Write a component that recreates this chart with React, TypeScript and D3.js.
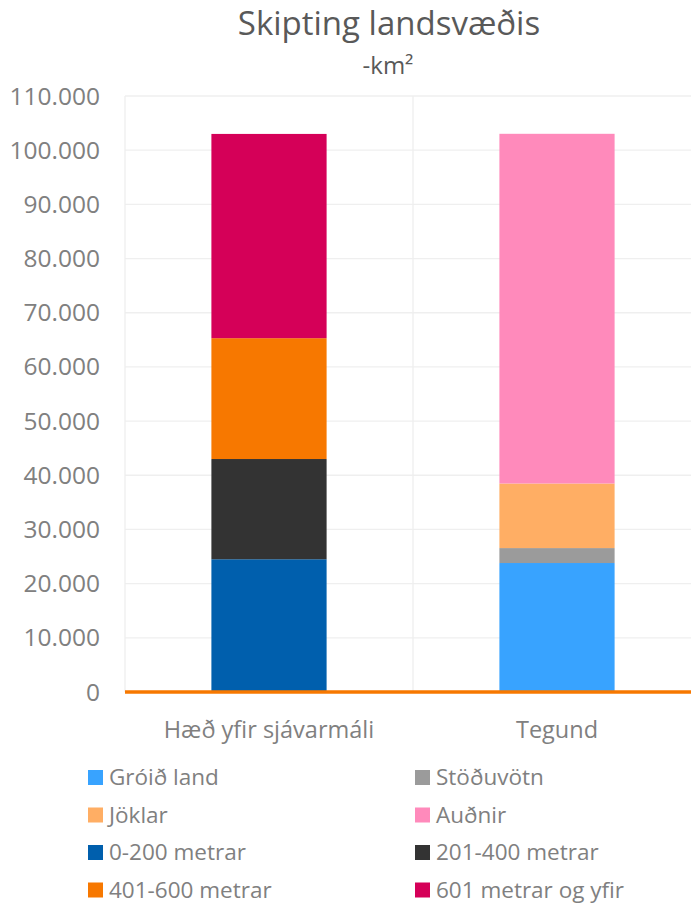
import React from "react";
import * as d3 from "d3";

const categories = ["Hæð yfir sjávarmáli", "Tegund"];
const seriesNames = [
  "Gróið land",
  "Stöðuvötn",
  "Jöklar",
  "Auðnir",
  "0-200 metrar",
  "201-400 metrar",
  "401-600 metrar",
  "601 metrar og yfir",
];
const seriesColors = ["#38A3FF", "#9B9B9B", "#FFAE64", "#FF8ABB", "#005FAD", "#333333", "#F77800", "#D50058"];
// values per series: [Hæð yfir sjávarmáli, Tegund]
const groidLand = [0, 23805];
const stoduvotn = [0, 2757];
const joklar = [0, 11922];
const audnir = [0, 64538];
const m0_200 = [24500, 0];
const m201_400 = [18500, 0];
const m401_600 = [22300, 0];
const m601 = [37700, 0];
const seriesValues = [groidLand, stoduvotn, joklar, audnir, m0_200, m201_400, m401_600, m601];
const stackOrder = [4, 5, 6, 7, 0, 1, 2, 3];
const yTicks = [0, 10000, 20000, 30000, 40000, 50000, 60000, 70000, 80000, 90000, 100000, 110000];

const FONT = "'Open Sans', sans-serif";

export default function App() {
  const W = 691;
  const H = 905;
  const left = 125;
  const right = 701;
  const top = 96;
  const bottom = 692;

  const x = d3.scaleBand<string>().domain(categories).range([left, right]).paddingInner(0.6).paddingOuter(0.3);
  const y = d3.scaleLinear().domain([0, 110000]).range([bottom, top]);
  const locale = d3.formatLocale({ decimal: ",", thousands: ".", grouping: [3], currency: ["", ""] });
  const fmt = locale.format(",");

  const rows = categories.map((c, ci) => {
    const r: any = { cat: c };
    seriesNames.forEach((s, si) => (r[s] = seriesValues[si][ci]));
    return r;
  });
  const stack = d3.stack<any>().keys(stackOrder.map((i) => seriesNames[i]));
  const stacked = stack(rows);

  const step = x.step();

  return (
    <svg width={W} height={H} style={{ position: "absolute", left: 0, top: 0, background: "#fff" }}>
      <text x={389} y={35} textAnchor="middle" fontFamily={FONT} fontSize={33} fill="#595959">
        Skipting landsvæðis
      </text>
      <text x={388} y={74} textAnchor="middle" fontFamily={FONT} fontSize={24} fill="#595959">
        -km²
      </text>
      {yTicks.slice(1).map((t) => (
        <line key={"g" + t} x1={left} x2={right} y1={y(t)} y2={y(t)} stroke="#EFEFEF" strokeWidth={1.3} />
      ))}
      {[0, 1, 2].map((i) => (
        <line
          key={"v" + i}
          x1={left + i * step}
          x2={left + i * step}
          y1={top}
          y2={bottom}
          stroke="#EFEFEF"
          strokeWidth={1.3}
        />
      ))}
      {yTicks.map((t) => (
        <text
          key={"t" + t}
          x={100}
          y={y(t)}
          dy="0.35em"
          textAnchor="end"
          fontFamily={FONT}
          fontSize={24.5}
          fill="#808080"
        >
          {fmt(t)}
        </text>
      ))}
      {stacked.map((layer) => {
        const si = seriesNames.indexOf(layer.key);
        return layer.map((d, ci) =>
          d[1] - d[0] > 0 ? (
            <rect
              key={layer.key + ci}
              x={x(categories[ci])}
              width={x.bandwidth()}
              y={y(d[1])}
              height={y(d[0]) - y(d[1])}
              fill={seriesColors[si]}
            />
          ) : null
        );
      })}
      <line x1={left} x2={W} y1={bottom} y2={bottom} stroke="#F77800" strokeWidth={3.5} />
      {categories.map((c) => (
        <text
          key={c}
          x={(x(c) as number) + x.bandwidth() / 2}
          y={730}
          dy="0.35em"
          textAnchor="middle"
          fontFamily={FONT}
          fontSize={23.5}
          fill="#808080"
        >
          {c}
        </text>
      ))}
      {seriesNames.map((s, i) => {
        const col = i % 2;
        const row = Math.floor(i / 2);
        const lx = col === 0 ? 88 : 415;
        const ly = 777.5 + row * 37.5;
        return (
          <g key={s}>
            <rect x={lx} y={ly - 7.5} width={15} height={15} fill={seriesColors[i]} />
            <text x={lx + 21} y={ly} dy="0.35em" fontFamily={FONT} fontSize={22.5} fill="#808080">
              {s}
            </text>
          </g>
        );
      })}
    </svg>
  );
}
